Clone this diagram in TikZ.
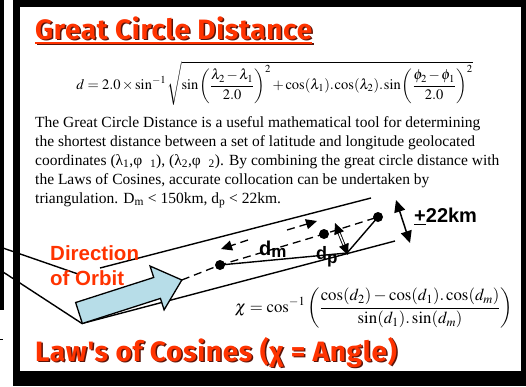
\documentclass[tikz,border=0pt]{standalone}
\usepackage{mathptmx}
\usepackage{fontspec}
\setmainfont{Liberation Serif}
\newfontfamily\headfont{Fira Sans}[LetterSpace=2.5]
\newfontfamily\labelfont{Liberation Sans}
\usetikzlibrary{arrows.meta}
\definecolor{orbitred}{RGB}{255,51,0}
\definecolor{shadowred}{RGB}{90,20,10}
\definecolor{arrowblue}{RGB}{183,221,232}

\begin{document}
\begin{tikzpicture}[x=1pt, y=-1pt, every node/.style={inner sep=0pt},
  band/.style={line width=1.4pt},
  track/.style={line width=1.3pt, dash pattern=on 8pt off 5pt},
  spot/.style={circle, fill=black, minimum size=10pt},
  tri/.style={-{Triangle[length=11pt,width=10pt]}},
  headline/.style={font=\headfont\bfseries\fontsize{28}{30}\selectfont, anchor=base west},
  sidelabel/.style={font=\labelfont\bfseries\fontsize{20}{22}\selectfont, anchor=base west}]
\useasboundingbox (0,0) rectangle (526,386);
% --- frame ---
\fill[black] (13,0) rectangle (526,386);
\fill[white] (20,7) rectangle (521,371);
\fill[black] (0,0) rectangle (4,310);
\draw[line width=0.8pt] (0,339) -- (3,339);
% --- great circle distance ---
\node[headline, text=shadowred] (gcdshadow) at (36.5,40.5) {Great Circle Distance};
\node[headline, text=orbitred] (gcd) at (35,39) {Great Circle Distance};
\draw[shadowred, line width=2pt] ([shift={(1.5pt,-5pt)}]gcd.base west) -- ([shift={(1.5pt,-5pt)}]gcd.base east);
\draw[orbitred, line width=2pt] ([yshift=-3.5pt]gcd.base west) -- ([yshift=-3.5pt]gcd.base east);
\node[font=\fontsize{14.5}{17}\selectfont] (gcdform) at (274.5,83)
  {\thinmuskip=1mu \medmuskip=2mu
   $\displaystyle d = 2.0\times\sin^{-1}\sqrt{\sin\left(\frac{\lambda_2-\lambda_1}{2.0}\right)^{2}+\cos(\lambda_1).\cos(\lambda_2).\sin\left(\frac{\phi_2-\phi_1}{2.0}\right)^{2}}$};
\node[font=\fontsize{15.5}{19}\selectfont, align=left, anchor=north west] (para) at (35,116.5)
  {The Great Circle Distance is a useful mathematical tool for determining\\
   the shortest distance between a set of latitude and longitude geolocated\\
   coordinates (λ\textsubscript{1},φ\ \ \textsubscript{1}), (λ\textsubscript{2},φ\ \ \textsubscript{2}). By combining the great circle distance with\\
   the Laws of Cosines, accurate collocation can be undertaken by\\
   triangulation. D\textsubscript{m} < 150km, d\textsubscript{p} < 22km.};
% --- orbit band ---
\coordinate (feedA) at (0,247);
\coordinate (feedB) at (0,270);
\coordinate (upperL) at (100,268);
\coordinate (upperR) at (371,198);
\coordinate (lowerL) at (82,323.5);
\coordinate (lowerR) at (395,241);
\coordinate (fix) at (347,253);
\draw[band] (feedA) -- (78,274);
\draw[band] (feedB) -- (lowerL);
\draw[band] (upperL) -- (upperR);
\draw[band] (lowerL) -- (lowerR);
\begin{scope}[shift={(79,313)}, rotate=17.8]
\filldraw[fill=arrowblue, draw=black, line width=1.3pt]
  (0,-11) -- (82,-11) -- (82,-23) -- (108,0) -- (82,23) -- (82,11) -- (0,11) -- cycle;
\coordinate (tip) at (108,0);
\end{scope}
\node[spot] (p1) at (220,265) {};
\node[spot] (p2) at (324,234) {};
\node[spot] (p3) at (378,217) {};
\draw[track] (tip) -- (p1.center) -- (p2.center) -- (p3.center);
\draw[band] (p1.center) -- (fix) -- (p3.center);
% --- separations ---
\coordinate (dmL0) at (248,240);
\coordinate (dmL1) at (221,249);
\coordinate (dmR0) at (287,230);
\coordinate (dmR1) at (317,221);
\draw[track, tri] (dmL0) -- (dmL1);
\draw[track, tri] (dmR0) -- (dmR1);
\coordinate (dpA) at (335,223);
\coordinate (dpB) at (348,255);
\draw[line width=0.9pt, double, double distance=1.4pt,
  {Triangle[length=11pt,width=10pt]}-{Triangle[length=11pt,width=10pt]}] (dpA) -- (dpB);
\coordinate (kmA) at (396,200);
\coordinate (kmB) at (410,243);
\draw[line width=1.5pt,
  {Triangle[length=12pt,width=11pt]}-{Triangle[length=12pt,width=11pt]}] (kmA) -- (kmB);
\node[sidelabel] (dm) at (259,255) {d\raisebox{-2pt}{\fontsize{17}{17}\selectfont m}};
\node[sidelabel, font=\labelfont\bfseries\fontsize{18}{20}\selectfont] (dp) at (316,259) {d\raisebox{-4pt}{\fontsize{17}{17}\selectfont p}};
\node[sidelabel] (km) at (414,222) {\underline{+}22km};
\node[font=\labelfont\bfseries\fontsize{20.5}{25}\selectfont, text=orbitred, align=left, anchor=north west] (orbit) at (50,245) {Direction\\of Orbit};
% --- law of cosines ---
\node[font=\fontsize{16.8}{19}\selectfont] (chiform) at (374,308)
  {$\displaystyle \chi = \cos^{-1}\left(\frac{\cos(d_2)-\cos(d_1).\cos(d_m)}{\sin(d_1).\sin(d_m)}\right)$};
\node[headline, text=shadowred] (lawshadow) at (36.5,362.5) {Law's of Cosines (χ = Angle)};
\node[headline, text=orbitred] (law) at (35,361) {Law's of Cosines (χ = Angle)};
\end{tikzpicture}
\end{document}
